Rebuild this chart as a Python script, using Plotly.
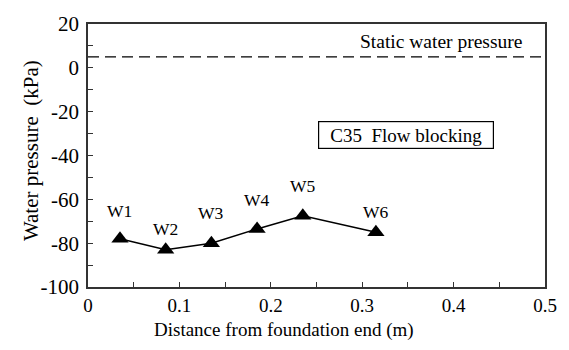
import plotly.graph_objects as go

# Data
labels = ["W1", "W2", "W3", "W4", "W5", "W6"]
distance = [0.035, 0.085, 0.135, 0.185, 0.235, 0.315]
pressure = [-78, -83, -80, -73.5, -67.5, -75]
static_x = [0, 0.5]
static_p = [5, 5]
x_ticks = [0, 0.1, 0.2, 0.3, 0.4, 0.5]
x_ticktext = ["0", "0.1", "0.2", "0.3", "0.4", "0.5"]
y_ticks = [-100, -80, -60, -40, -20, 0, 20]
y_ticktext = ["-100", "-80", "-60", "-40", "-20", "0", "20"]
label_shift = [28, 21, 30, 29, 30, 20]

FONT = "Liberation Serif"

fig = go.Figure()
fig.add_trace(go.Scatter(
    x=static_x, y=static_p, mode="lines",
    line=dict(color="black", width=1.3, dash="11px,6px"),
    showlegend=False, hoverinfo="skip"))
fig.add_trace(go.Scatter(
    x=distance, y=pressure, mode="lines+markers",
    line=dict(color="black", width=1.5),
    marker=dict(symbol="triangle-up", size=15, color="black"),
    showlegend=False))

for lab, xv, yv, sh in zip(labels, distance, pressure, label_shift):
    fig.add_annotation(x=xv, y=yv, text=lab, showarrow=False,
                       yshift=sh, font=dict(family=FONT, size=17.5, color="black"))

fig.add_annotation(x=0.477, y=5, xanchor="right", yanchor="bottom", yshift=3,
                   text="Static water pressure", showarrow=False,
                   font=dict(family=FONT, size=19.5, color="black"))
fig.add_annotation(x=0.348, y=-30.8, text="C35  Flow blocking", showarrow=False,
                   width=172, height=24, borderpad=1,
                   bordercolor="black", borderwidth=1.2,
                   bgcolor="white",
                   font=dict(family=FONT, size=19, color="black"))

# axis titles
fig.add_annotation(xref="paper", yref="paper", x=0.428, y=-0.165,
                   xanchor="center", yanchor="middle", showarrow=False,
                   text="Distance from foundation end (m)",
                   font=dict(family=FONT, size=19, color="black"))
fig.add_annotation(xref="paper", yref="paper", x=-0.125, y=0.52,
                   xanchor="center", yanchor="middle", showarrow=False,
                   textangle=-90, text="Water pressure  (kPa)",
                   font=dict(family=FONT, size=21, color="black"))

axis_common = dict(
    showgrid=False, zeroline=False, showline=True, linecolor="#333333",
    linewidth=1.5, mirror=True, ticks="inside", ticklen=5, tickwidth=1.2,
    tickcolor="#333333",
)

fig.update_xaxes(
    range=[0, 0.5], tickmode="array", tickvals=x_ticks, ticktext=x_ticktext,
    minor=dict(dtick=0.05, tick0=0, ticks="inside", ticklen=5, tickwidth=1.2, tickcolor="#333333"),
    tickfont=dict(family=FONT, size=19, color="black"),
    **axis_common)
fig.update_yaxes(
    range=[-100, 20], tickmode="array", tickvals=y_ticks, ticktext=y_ticktext,
    minor=dict(dtick=10, tick0=0, ticks="inside", ticklen=5, tickwidth=1.2, tickcolor="#333333"),
    tickfont=dict(family=FONT, size=21, color="black"),
    ticklabelstandoff=3,
    **axis_common)

fig.update_layout(
    width=569, height=350,
    margin=dict(l=88, r=24, t=13, b=63),
    plot_bgcolor="white", paper_bgcolor="white",
    font=dict(family=FONT, color="black"),
)

fig.write_html("out.html")
